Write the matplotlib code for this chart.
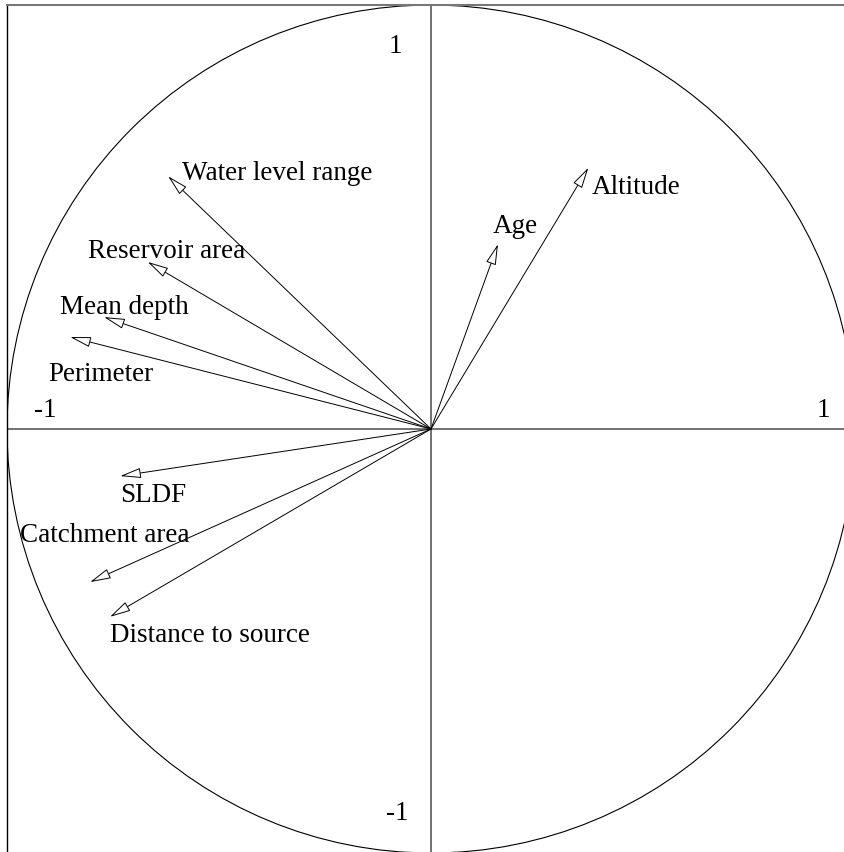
import matplotlib.pyplot as plt
from matplotlib.patches import Circle

# correlation circle: variable loadings on axes 1 and 2
variables = ['Water level range', 'Reservoir area', 'Mean depth', 'Perimeter',
             'SLDF', 'Catchment area', 'Distance to source', 'Age', 'Altitude']
axis1 = [-0.620, -0.668, -0.771, -0.851, -0.733, -0.804, -0.757, 0.158, 0.371]
axis2 = [0.596, 0.394, 0.264, 0.217, -0.111, -0.361, -0.443, 0.436, 0.616]

# label offsets from the arrow tip (pixels, x right / y down)
label_offsets = {
    'Water level range': (14, -4),
    'Reservoir area': (-60, -11),
    'Mean depth': (-44, -11),
    'Perimeter': (-22, 37),
    'SLDF': (0, 18),
    'Catchment area': (-70, -48),
    'Distance to source': (0, 18),
    'Age': (-5, -19),
    'Altitude': (3, 19),
}

plt.rcParams['font.family'] = ['Liberation Serif', 'DejaVu Serif']
FS = 19.5

W, H = 845, 853
fig = plt.figure(figsize=(W / 100, H / 100), dpi=100)
# axes spans 7..855 px horizontally and 6..854 px vertically (cropped right/bottom)
ax = fig.add_axes([7 / W, (H - 854) / H, 848 / W, 848 / H])
ax.set_xlim(-1, 1)
ax.set_ylim(-1, 1)
ax.set_aspect('equal')
ax.set_xticks([])
ax.set_yticks([])
for side in ['right', 'bottom']:
    ax.spines[side].set_visible(False)
ax.spines['top'].set_color('#777777')
ax.spines['top'].set_linewidth(1.5)
ax.spines['left'].set_color('black')
ax.spines['left'].set_linewidth(1)

ax.add_patch(Circle((0, 0), 1, fill=False, ec='black', lw=0.8))
ax.axhline(0, color='#666666', lw=1.3)
ax.axvline(0, color='#666666', lw=1.3)

for name, x, y in zip(variables, axis1, axis2):
    ax.annotate('', xy=(x, y), xytext=(0, 0),
                arrowprops=dict(arrowstyle='-|>,head_length=1.3,head_width=0.32',
                                fc='white', ec='black', lw=0.7,
                                shrinkA=0, shrinkB=0))
    dx, dy = label_offsets[name]
    ax.annotate(name, xy=(x, y), xytext=(dx * 0.72, -dy * 0.72),
                textcoords='offset points', ha='left', va='center', fontsize=FS)

ax.text(-0.91, 0.045, '-1', fontsize=FS, ha='center', va='center')
ax.text(0.925, 0.045, '1', fontsize=FS, ha='center', va='center')
ax.text(-0.085, 0.905, '1', fontsize=FS, ha='center', va='center')
ax.text(-0.08, -0.905, '-1', fontsize=FS, ha='center', va='center')

fig.savefig('out.png', dpi=100)
